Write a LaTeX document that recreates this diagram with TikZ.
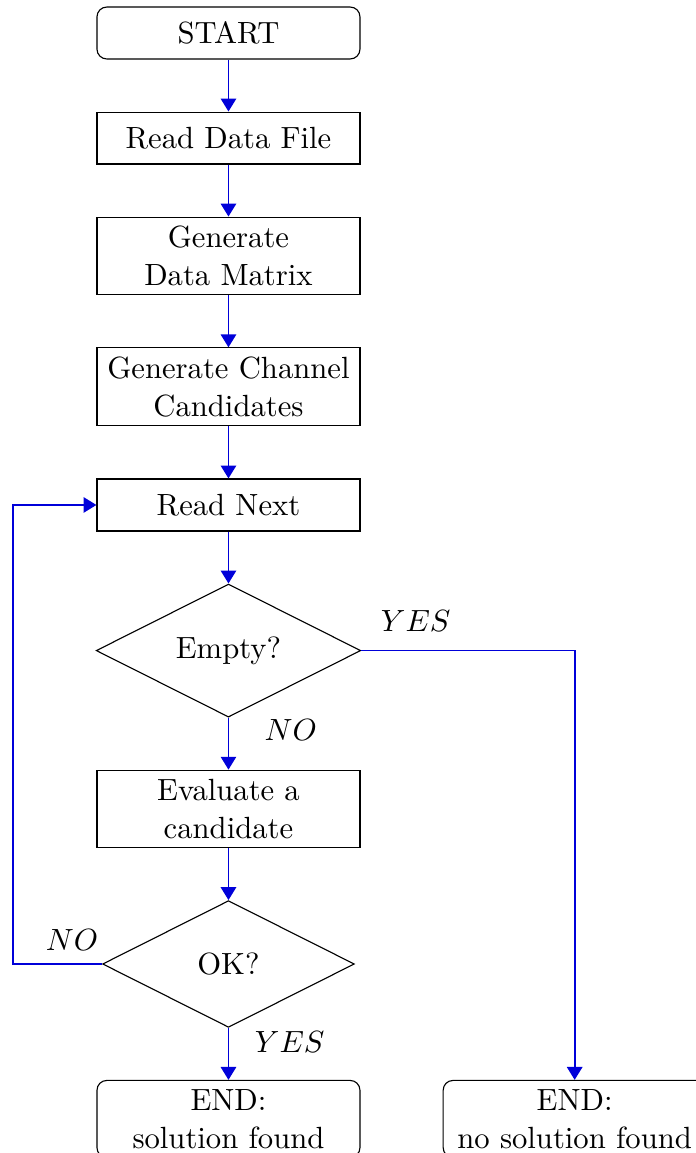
\documentclass[tikz,border=0pt,11pt]{standalone}
\usepackage{amsmath}
\usepackage{tikz}
\usetikzlibrary{shapes.geometric, arrows.meta, positioning}

\begin{document}
\begin{tikzpicture} [node distance = 0.652cm, auto,
  terminal/.style = {draw, rounded corners = 3.5pt, minimum width = 3.3cm,
                     minimum height = 0.652cm, inner ysep = 3.15pt, align = center},
  process/.style  = {draw, minimum width = 3.3cm, minimum height = 0.652cm,
                     inner ysep = 3.15pt, align = center},
  decision/.style = {draw, diamond, aspect = 2, inner sep = 1pt},
  answer/.style   = {text = black},
  flow/.style     = {-{Triangle[width = 5.5pt, length = 4.6pt]}, semithick, blue!85!black}]

\useasboundingbox (-2.867,0.414) rectangle (5.866,-14.054);

\node (start) [terminal] {START};
\node (readfile) [process, below = of start] {Read Data File};
\node (matrix) [process, below = of readfile] {Generate\\Data Matrix};
\node (channels) [process, below = of matrix] {Generate Channel\\Candidates};
\node (readnext) [process, below = of channels] {Read Next};

% test for an empty list
\node (empty) [decision, minimum width = 3.32cm, minimum height = 1.67cm,
               below = of readnext] {Empty?};
\node (evaluate) [process, below = of empty] {Evaluate a\\candidate};
\node (ok) [decision, minimum width = 3.16cm, minimum height = 1.59cm,
            below = of evaluate] {OK?};

% end points
\node (solved) [terminal, below = of ok] {END:\\solution found};
\node (unsolved) [terminal, right = 1.03cm of solved] {END:\\no solution found};

\coordinate [left = 1.05cm of readnext.west] (back);

\path [flow]
  (start) edge (readfile)
  (readfile) edge (matrix)
  (matrix) edge (channels)
  (channels) edge (readnext)
  (readnext) edge (empty)
  (evaluate) edge (ok);

\draw [flow] (empty) -- node [answer, pos = 0.05, right, xshift = 9pt, yshift = -3.4pt] {$NO$} (evaluate);
\draw [flow] (ok) -- node [answer, pos = 0.05, right, xshift = 5.5pt, yshift = -4pt] {$YES$} (solved);

% YES branch to the right
\draw [flow] (empty.east) -| node [answer, pos = 0.02, above right, yshift = 3pt] {$YES$} (unsolved);

% loop back
\draw [flow] (ok.west) -| node [answer, pos = 0.02, above left, yshift = 1pt, xshift = 3.8pt] {$NO$} (back)
  -- (readnext.west);

\end{tikzpicture}
\end{document}
